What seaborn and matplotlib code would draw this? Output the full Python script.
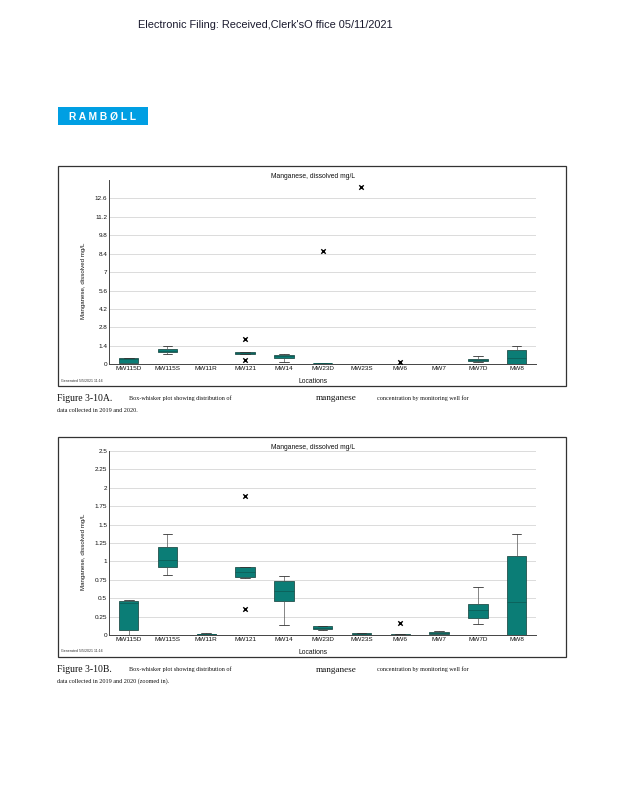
import matplotlib
matplotlib.use("Agg")
import matplotlib.pyplot as plt
import matplotlib.patches as mpatches
import seaborn as sns
import pandas as pd

# ---- data ----
locations = ["MW115D", "MW115S", "MW11R", "MW121", "MW14", "MW23D",
             "MW23S", "MW6", "MW7", "MW7D", "MW8"]
mins    = [0.00, 0.81, 0.005, 0.78, 0.14, 0.07, 0.010, 0.005, 0.010, 0.15, 0.00]
q1s     = [0.075, 0.92, 0.010, 0.79, 0.47, 0.08, 0.015, 0.008, 0.015, 0.24, 0.005]
medians = [0.44, 1.02, 0.015, 0.86, 0.60, 0.10, 0.020, 0.010, 0.025, 0.34, 0.45]
q3s     = [0.46, 1.19, 0.020, 0.92, 0.74, 0.12, 0.030, 0.012, 0.040, 0.42, 1.07]
maxs    = [0.48, 1.37, 0.030, 0.92, 0.80, 0.12, 0.035, 0.015, 0.055, 0.65, 1.37]
outlier_locs = ["MW121", "MW121", "MW23D", "MW23S", "MW6"]
outlier_vals = [1.89, 0.35, 8.6, 13.5, 0.16]

yticks_a = [0, 1.4, 2.8, 4.2, 5.6, 7, 8.4, 9.8, 11.2, 12.6]
yticklabels_a = ["0", "1.4", "2.8", "4.2", "5.6", "7", "8.4", "9.8", "11.2", "12.6"]
yticks_b = [0, 0.25, 0.5, 0.75, 1, 1.25, 1.5, 1.75, 2, 2.25, 2.5]
yticklabels_b = ["0", "0.25", "0.5", "0.75", "1", "1.25", "1.5", "1.75", "2", "2.25", "2.5"]

rows = []
for i, loc in enumerate(locations):
    for v in (mins[i], q1s[i], medians[i], q3s[i], maxs[i]):
        rows.append({"Location": loc, "Value": v})
df = pd.DataFrame(rows)
out_df = pd.DataFrame({"Location": outlier_locs, "Value": outlier_vals})

sns.set_theme(style="white")
plt.rcParams["font.family"] = ["Liberation Sans", "DejaVu Sans"]

W, H = 618, 800
fig = plt.figure(figsize=(W / 100, H / 100), dpi=100)
fig.patch.set_facecolor("white")


def fx(x):
    return x / W


def fy(y):
    return 1 - y / H


# header
fig.text(fx(265), fy(25), "Electronic Filing: Received,Clerk'sO ffice 05/11/2021",
         ha="center", va="center", fontsize=7.9, color="#1a1a2e")

# Ramboll logo
fig.patches.append(mpatches.Rectangle((fx(58), fy(125)), fx(148) - fx(58), (125 - 107) / H,
                                      transform=fig.transFigure, facecolor="#009fe3",
                                      edgecolor="none"))
fig.text(fx(103), fy(116.5), "R A M B Ø L L", ha="center", va="center", fontsize=7.4,
         color="white", fontweight="bold")

box_face = "#0b7d76"
box_edge = "#24514c"


def draw_chart(top_px, ylim, yticks, yticklabels, caption_id, caption_tail):
    frame_top = top_px
    frame_bot = top_px + 220
    fig.patches.append(mpatches.Rectangle((fx(57.5), fy(frame_bot)), fx(566) - fx(57.5),
                                          (frame_bot - frame_top) / H,
                                          transform=fig.transFigure, facecolor="none",
                                          edgecolor="#333333", linewidth=0.9))
    ax_top = top_px + (14 if ylim[1] > 3 else 13.7)
    ax_bot = top_px + 198.3
    ax = fig.add_axes([fx(109.3), fy(ax_bot), fx(536) - fx(109.3), (ax_bot - ax_top) / H])
    sns.boxplot(data=df, x="Location", y="Value", order=locations, whis=(0, 100),
                showfliers=False, width=0.5, color=box_face, saturation=1,
                linewidth=0.6, linecolor=box_edge, ax=ax,
                medianprops={"color": "#0d5f59", "linewidth": 0.6},
                capprops={"color": "#333333", "linewidth": 0.6},
                whiskerprops={"color": "#555555", "linewidth": 0.5})
    sns.stripplot(data=out_df, x="Location", y="Value", order=locations, jitter=False,
                  marker="x", color="black", size=3.2, linewidth=1.0, ax=ax)
    ax.set_xlim(-0.5, 10.5)
    ax.set_ylim(*ylim)
    ax.set_yticks(yticks)
    ax.set_yticklabels(yticklabels)
    ax.yaxis.grid(True, color="#d6d6d6", linewidth=0.6)
    ax.xaxis.grid(False)
    ax.set_axisbelow(True)
    for s in ("top", "right"):
        ax.spines[s].set_visible(False)
    for s in ("left", "bottom"):
        ax.spines[s].set_color("#444444")
        ax.spines[s].set_linewidth(0.7)
    ax.tick_params(axis="both", length=0, labelsize=4.6, colors="#111111", pad=1.5)
    ax.set_xlabel("")
    ax.set_ylabel("")
    ax.set_facecolor("white")

    fig.text(fx(313), fy(top_px + 10.5), "Manganese, dissolved mg/L", ha="center",
             va="center", fontsize=4.9, color="#111111")
    fig.text(fx(313), fy(top_px + 215.5), "Locations", ha="center", va="center",
             fontsize=4.9, color="#111111")
    fig.text(fx(84), fy(top_px + 115), "Manganese, dissolved mg/L", ha="center",
             va="center", rotation=90, fontsize=4.4, color="#111111")
    fig.text(fx(61), fy(top_px + 214.5), "Generated 5/5/2021 11:16", ha="left",
             va="center", fontsize=2.6, color="#333333")

    cy1 = frame_bot + 12.5
    cy2 = frame_bot + 24.5
    serif = ["Liberation Serif", "DejaVu Serif"]
    fig.text(fx(57), fy(cy1), caption_id, ha="left", va="center", fontsize=7.0,
             family=serif, color="#111111")
    fig.text(fx(129), fy(cy1), "Box-whisker plot showing distribution of", ha="left",
             va="center", fontsize=4.4, family=serif, color="#111111")
    fig.text(fx(316), fy(cy1), "manganese", ha="left", va="center", fontsize=6.6,
             family=serif, color="#111111")
    fig.text(fx(377), fy(cy1), "concentration by monitoring well for", ha="left",
             va="center", fontsize=4.4, family=serif, color="#111111")
    fig.text(fx(57), fy(cy2), caption_tail, ha="left", va="center", fontsize=4.4,
             family=serif, color="#111111")
    return ax


draw_chart(166, (0, 14), yticks_a, yticklabels_a, "Figure 3-10A.",
           "data collected in 2019 and 2020.")
draw_chart(437, (0, 2.5), yticks_b, yticklabels_b, "Figure 3-10B.",
           "data collected in 2019 and 2020 (zoomed in).")

fig.savefig("out.png", dpi=100, facecolor="white")
